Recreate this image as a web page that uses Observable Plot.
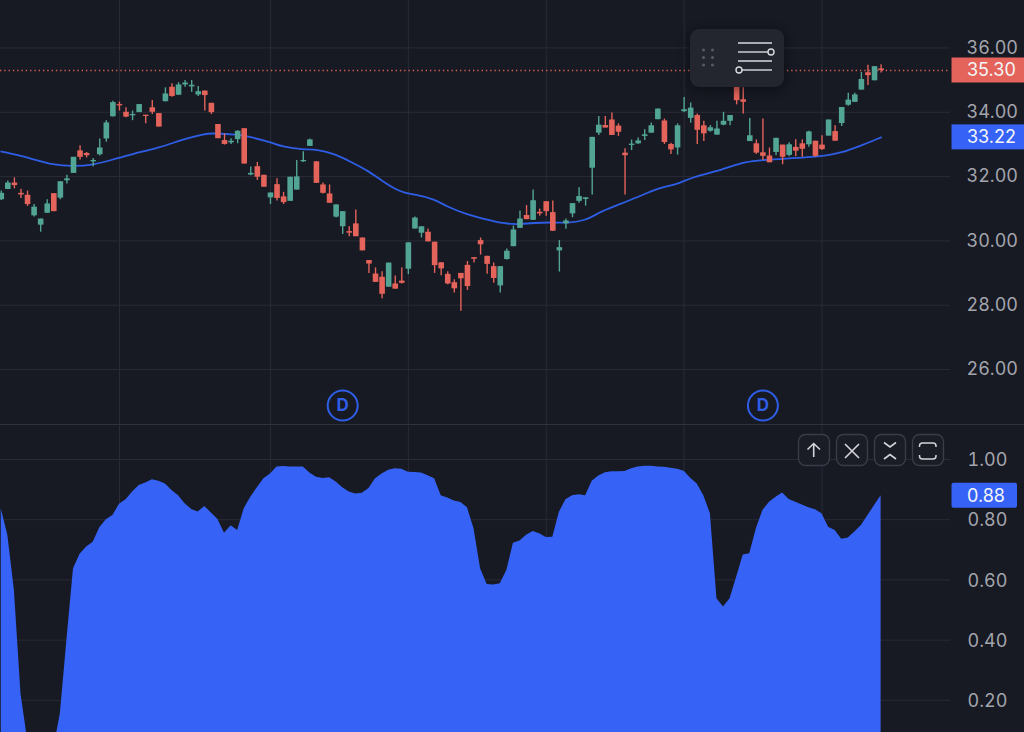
<!DOCTYPE html>
<html>
<head>
<meta charset="utf-8">
<script src="https://cdn.jsdelivr.net/npm/d3@7"></script>
<script src="https://cdn.jsdelivr.net/npm/@observablehq/plot@0.6"></script>
<style>
  html, body { margin: 0; padding: 0; background: #171923; overflow: hidden; }
  #stage { position: relative; width: 1024px; height: 732px; }
  #top, #bottom { position: absolute; left: 0; width: 1024px; }
  #top { top: 0; }
  #bottom { top: 425px; }
  #divider { position: absolute; left: 0; top: 424px; width: 1024px; height: 1px; background: #30323d; }
  #overlay { position: absolute; left: 0; top: 0; pointer-events: none; }
  svg { display: block; }
</style>
</head>
<body>
<div id="stage">
  <div id="top"></div>
  <div id="divider"></div>
  <div id="bottom"></div>
  <svg id="overlay" width="1024" height="732">
    <g style="filter: drop-shadow(0 2px 6px rgba(0,0,0,.45))">
      <rect x="690" y="29" width="94" height="58" rx="9" fill="#23252f"/>
    </g>
    <g fill="#565862">
      <circle cx="703.5" cy="50" r="1.6"/><circle cx="712.5" cy="50" r="1.6"/>
      <circle cx="703.5" cy="57.5" r="1.6"/><circle cx="712.5" cy="57.5" r="1.6"/>
      <circle cx="703.5" cy="65" r="1.6"/><circle cx="712.5" cy="65" r="1.6"/>
    </g>
    <g stroke="#d9dade" stroke-width="1.4" fill="none">
      <line x1="738" y1="43" x2="772" y2="43"/>
      <line x1="738" y1="52" x2="768" y2="52"/>
      <circle cx="771" cy="52" r="3"/>
      <line x1="738" y1="61" x2="772" y2="61"/>
      <line x1="742" y1="70" x2="772" y2="70"/>
      <circle cx="739" cy="70" r="3"/>
    </g>
    <g fill="#1a1c26" stroke="#3a3c47" stroke-width="1.4">
      <rect x="798.5" y="434.5" width="31" height="31" rx="7"/>
      <rect x="836.5" y="434.5" width="31" height="31" rx="7"/>
      <rect x="874.5" y="434.5" width="31" height="31" rx="7"/>
      <rect x="912.5" y="434.5" width="31" height="31" rx="7"/>
    </g>
    <g stroke="#d4d5da" stroke-width="1.6" fill="none">
      <path d="M813.7 457V443.5M807.5 449.5L813.7 443.5L820 449.5"/>
      <path d="M845 444L859 458M859 444L845 458"/>
      <path d="M884 442.5L890 447L896 442.5M884 459L890 454.5L896 459"/>
      <path d="M919.5 447V446Q919.5 443 922.5 443H933Q936 443 936 446V447M919.5 455V456Q919.5 459 922.5 459H933Q936 459 936 456V455" stroke-width="1.5"/>
    </g>
  </svg>
</div>
<script>
const open = [31.28,31.60,31.80,31.48,31.42,30.78,30.49,30.86,31.47,31.33,
31.87,32.10,32.80,32.72,32.46,32.68,33.17,33.86,34.24,34.00,
33.89,33.99,33.91,34.14,33.96,34.33,34.78,34.53,34.85,34.79,
34.54,34.66,34.28,33.62,33.12,33.05,33.15,33.49,32.05,32.31,
32.04,31.34,31.75,31.37,31.23,31.58,32.46,32.94,32.46,31.74,
31.46,30.74,30.44,30.29,30.53,30.09,29.39,28.97,28.87,28.56,
28.66,28.75,29.12,30.37,30.24,30.27,29.96,29.32,28.96,28.70,
28.99,29.24,29.48,30.01,29.52,29.20,28.60,29.42,29.82,30.39,
30.79,30.64,30.89,31.22,30.88,29.69,30.53,30.84,31.23,31.29,
32.26,33.35,33.59,33.76,33.57,32.73,32.97,33.02,33.25,33.35,
33.77,33.73,33.00,32.89,34.02,33.81,33.90,33.58,33.41,33.29,
33.60,33.72,34.88,34.39,33.09,33.02,32.74,32.64,32.75,32.98,
32.66,32.91,33.02,32.99,33.10,32.98,33.26,33.40,33.65,34.22,
34.31,34.69,35.23,34.98,35.35];
const high = [31.55,31.86,31.96,31.61,31.55,31.13,30.68,31.28,31.47,31.84,
32.04,32.60,32.96,32.75,32.56,33.17,33.74,34.34,34.32,34.14,
34.04,34.24,33.91,34.37,33.96,34.76,34.89,34.92,34.99,34.99,
34.80,34.66,34.28,33.62,33.33,33.18,33.43,33.49,32.30,32.44,
32.04,31.49,31.93,31.51,31.98,32.50,32.77,33.17,32.46,31.80,
31.74,31.12,30.91,30.44,30.96,30.09,29.39,29.16,29.04,29.31,
28.91,29.16,29.94,30.74,30.44,30.37,29.96,29.32,29.04,28.79,
28.99,29.36,29.48,30.09,29.52,29.31,29.20,29.75,30.46,30.93,
31.10,31.58,30.99,31.22,31.24,30.01,30.68,31.16,31.65,31.34,
33.22,33.87,33.87,33.98,33.64,32.87,33.14,33.20,33.46,33.67,
34.10,33.79,33.04,33.64,34.46,34.29,33.95,33.72,33.59,33.72,
34.00,33.90,34.88,34.76,33.81,33.14,33.79,32.89,33.19,32.98,
33.05,33.15,33.14,33.41,33.10,33.27,33.76,33.58,34.15,34.59,
34.59,35.24,35.46,35.42,35.48];
const low = [31.26,31.60,31.62,31.32,31.07,30.74,30.27,30.86,30.91,31.28,
31.77,32.10,32.52,32.58,32.31,32.64,33.07,33.85,34.04,33.83,
33.74,33.99,33.64,33.93,33.54,34.32,34.47,34.53,34.78,34.62,
34.49,34.04,33.93,33.18,32.98,33.00,33.02,32.39,32.03,31.88,
31.67,31.13,31.24,31.13,31.23,31.58,32.44,32.94,31.79,31.46,
31.17,30.71,30.20,30.13,30.13,29.69,28.99,28.71,28.20,28.56,
28.50,28.66,28.95,30.37,30.09,29.97,28.99,28.92,28.64,28.38,
27.81,28.46,29.31,29.56,28.96,28.68,28.38,29.41,29.82,30.39,
30.66,30.64,30.77,30.77,30.30,29.03,30.36,30.72,31.17,31.08,
31.43,33.28,33.51,33.28,33.25,31.43,32.81,33.00,33.12,33.35,
33.77,33.00,32.69,32.67,33.99,33.66,33.00,33.09,33.38,33.29,
33.58,33.58,34.23,33.95,33.09,32.69,32.50,32.43,32.65,32.37,
32.62,32.62,32.60,32.91,32.60,32.81,33.26,33.10,33.56,34.19,
34.31,34.69,34.83,34.98,35.22];
const close = [31.48,31.80,31.72,31.43,31.13,31.05,30.68,31.15,30.91,31.84,
31.93,32.60,32.60,32.65,32.50,32.89,33.67,34.30,34.20,33.85,
33.93,34.24,33.87,34.00,33.54,34.57,34.49,34.85,34.91,34.84,
34.64,34.52,33.99,33.18,33.00,33.10,33.41,32.39,32.10,31.98,
31.67,31.49,31.32,31.19,31.98,31.99,32.50,33.14,31.79,31.48,
31.17,31.12,30.91,30.24,30.13,29.69,29.28,28.71,28.34,29.31,
28.50,28.68,29.94,30.71,30.44,29.97,29.23,29.13,28.66,28.51,
28.82,28.58,29.43,29.88,29.27,28.83,29.20,29.68,30.34,30.68,
30.66,31.25,30.84,30.91,30.30,29.79,30.62,31.16,31.38,31.34,
33.22,33.60,33.51,33.28,33.38,32.65,33.01,33.11,33.30,33.58,
34.10,33.06,32.83,33.58,34.08,34.13,33.44,33.33,33.52,33.48,
33.72,33.90,34.36,34.31,33.27,32.73,32.63,32.43,33.19,32.60,
32.99,32.79,32.85,33.39,32.63,32.84,33.76,33.10,34.15,34.38,
34.54,35.02,35.14,35.42,35.30];

const maBars = [0,4,8,11,14,17,20,24,28,31,32,36,38,41,43,46,48,51,53,56,58,61,63,66,68,71,73,77,79,81,84,86,89,91,93,97,100,103,105,110,113,118,125,128,131,134];
const maValues = [32.78,32.60,32.35,32.32,32.36,32.53,32.71,32.89,33.18,33.33,33.35,33.31,33.23,33.07,32.92,32.84,32.85,32.69,32.48,32.17,31.86,31.49,31.45,31.30,31.05,30.82,30.71,30.52,30.52,30.56,30.58,30.55,30.63,30.88,31.05,31.36,31.65,31.75,31.98,32.21,32.48,32.54,32.62,32.74,32.97,33.22];

const oscillator = [.836,.748,.565,.222,.07,.04,.03,.04,.04,.155,
.40,.637,.685,.709,.725,.773,.80,.814,.851,.866,
.892,.914,.922,.933,.928,.919,.897,.880,.853,.834,
.826,.844,.822,.801,.755,.780,.764,.836,.875,.906,
.936,.952,.975,.977,.975,.975,.975,.955,.941,.937,
.939,.925,.906,.892,.885,.888,.904,.936,.952,.964,
.969,.968,.958,.957,.955,.946,.936,.880,.872,.862,
.857,.840,.770,.637,.585,.583,.587,.631,.722,.729,
.748,.761,.753,.741,.742,.825,.866,.880,.883,.880,
.928,.945,.956,.959,.959,.960,.969,.975,.978,.978,
.975,.974,.971,.968,.961,.938,.919,.880,.820,.537,
.510,.537,.609,.683,.687,.770,.831,.858,.875,.889,
.867,.858,.849,.840,.833,.820,.775,.764,.735,.739,
.759,.781,.814,.847,.88];

const priceTicks = [26,28,30,32,34,36];
const oscTicks = [0.2,0.4,0.6,0.8,1.0];
const monthBars = [18,41,62,83,104,125];
const dividendBars = [52,116];
const dividendLevel = 24.88;
const lastPrice = 35.30;
const lastMa = 33.22;
const lastOsc = 0.88;

const up = "#52a594", down = "#e4635a", blue = "#2f5ee6", areaBlue = "#3663f6";
const gridColor = "#292b36", axisText = "#a3a5ad", font = "Inter, sans-serif";
const bars = d3.range(open.length);
const xDomain = [-0.117, 144.57];
const f2 = d3.format(".2f");

const color = i => close[i] >= open[i] ? up : down;

const topPlot = Plot.plot({
  width: 1024, height: 424,
  marginLeft: 0, marginRight: 74, marginTop: 0, marginBottom: 0,
  style: {background: "#171923", fontFamily: font},
  x: {domain: xDomain, axis: null},
  y: {domain: [24.29, 37.477]},
  marks: [
    Plot.gridY(priceTicks, {stroke: gridColor, strokeOpacity: 1}),
    Plot.ruleX(monthBars, {stroke: gridColor, strokeOpacity: 1}),
    Plot.ruleY([lastPrice], {stroke: down, strokeWidth: 1.3, strokeDasharray: "1.3,3"}),
    Plot.line(maBars, {x: d => d, y: (d, i) => maValues[i], stroke: blue, strokeWidth: 1.8, curve: "basis"}),
    Plot.ruleX(bars, {x: d => d, y1: d => low[d], y2: d => high[d], stroke: color, strokeWidth: 1.4}),
    Plot.ruleX(bars, {x: d => d, y1: d => open[d], y2: d => close[d], stroke: color, strokeWidth: 5.6}),
    Plot.axisY(priceTicks, {anchor: "right", tickSize: 0, tickPadding: 16, tickFormat: f2, label: null, fontSize: 18, fill: axisText}),
    Plot.dot(dividendBars, {x: d => d, y: dividendLevel, r: 15, stroke: blue, strokeWidth: 2, fill: "none"}),
    Plot.text(dividendBars, {x: d => d, y: dividendLevel, text: () => "D", fill: blue, fontSize: 17, fontWeight: 700})
  ]
});

const bottomPlot = Plot.plot({
  width: 1024, height: 307,
  marginLeft: 0, marginRight: 74, marginTop: 0, marginBottom: 0,
  style: {background: "#171923", fontFamily: font},
  x: {domain: xDomain, axis: null},
  y: {domain: [0.093, 1.113]},
  marks: [
    Plot.gridY(oscTicks, {stroke: gridColor, strokeOpacity: 1}),
    Plot.ruleX(monthBars, {stroke: gridColor, strokeOpacity: 1}),
    Plot.areaY(oscillator, {x: (d, i) => i, y: d => d, fill: areaBlue, clip: true}),
    Plot.axisY(oscTicks, {anchor: "right", tickSize: 0, tickPadding: 17, dy: 1, tickFormat: f2, label: null, fontSize: 18, fill: axisText})
  ]
});

function addTag(plot, value, fill, right, rx, left) {
  const y = plot.scale("y").apply(value);
  const g = d3.select(plot).append("g");
  g.append("rect").attr("x", 951.5).attr("y", y - 12.5).attr("width", right - 951.5).attr("height", 25).attr("rx", rx).attr("fill", fill);
  g.append("text").attr("x", left).attr("y", y).attr("dy", "0.36em").attr("text-anchor", "start")
    .attr("font-size", 18).attr("font-family", font).attr("fill", "#f4f5f7").text(f2(value));
}
addTag(topPlot, lastPrice, down, 1024, 0, 967);
addTag(topPlot, lastMa, areaBlue, 1024, 0, 967);
addTag(bottomPlot, lastOsc, areaBlue, 1017, 2, 967);

document.getElementById("top").append(topPlot);
document.getElementById("bottom").append(bottomPlot);
</script>
</body>
</html>
